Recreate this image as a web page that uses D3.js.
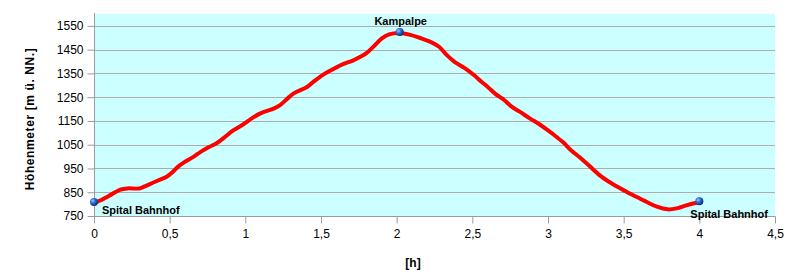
<!DOCTYPE html>
<html>
<head>
<meta charset="utf-8">
<script src="https://cdn.jsdelivr.net/npm/d3@7"></script>
<style>
  body { margin: 0; background: #fff; }
  svg { display: block; font-family: "Liberation Sans", Arial, sans-serif; }
</style>
</head>
<body>
<div id="chart"></div>
<script>
// Höhenprofil: Zeit [h] gegen Höhe [m]
const zeit = [0, 0.04, 0.10, 0.17, 0.22, 0.30, 0.34, 0.40, 0.44, 0.48, 0.52, 0.56, 0.60, 0.66, 0.70, 0.76,
  0.81, 0.86, 0.92, 0.99, 1.04, 1.10, 1.19, 1.23, 1.28, 1.32, 1.41, 1.46, 1.52, 1.58, 1.65, 1.71,
  1.76, 1.80, 1.85, 1.90, 1.95, 2.02, 2.09, 2.15, 2.22, 2.28, 2.33, 2.38, 2.45, 2.51, 2.56, 2.60,
  2.65, 2.71, 2.76, 2.81, 2.88, 2.95, 3.00, 3.04, 3.10, 3.15, 3.23, 3.30, 3.34, 3.40, 3.45, 3.51,
  3.56, 3.65, 3.72, 3.79, 3.85, 3.92, 4.00];
const hoehe = [805, 815, 835, 860, 866, 866, 876, 893, 904, 915, 935, 960, 978, 1000, 1018, 1040,
  1056, 1080, 1110, 1137, 1160, 1182, 1203, 1217, 1245, 1266, 1294, 1320, 1347, 1368, 1390, 1404,
  1420, 1435, 1465, 1496, 1514, 1520, 1512, 1500, 1484, 1462, 1428, 1400, 1372, 1343, 1315, 1294,
  1265, 1238, 1210, 1190, 1161, 1133, 1110, 1091, 1060, 1028, 986, 945, 922, 895, 876, 855,
  838, 810, 789, 778, 782, 796, 808];

const yTicks = [750, 850, 950, 1050, 1150, 1250, 1350, 1450, 1550];
const xTicks = [0, 0.5, 1, 1.5, 2, 2.5, 3, 3.5, 4, 4.5];
const xTickLabels = ["0", "0,5", "1", "1,5", "2", "2,5", "3", "3,5", "4", "4,5"];

// Wegpunkte (Index in zeit/hoehe) und ihre Namen
const punktIdx = [0, 37, 70];
const punktNamen = ["Spital Bahnhof", "Kampalpe", "Spital Bahnhof"];

const W = 807, H = 280;
const pl = 94, pr = 775, pt = 14, pb = 216;

const svg = d3.select('#chart').append('svg')
  .attr('width', W).attr('height', H);

const x = d3.scaleLinear().domain([0, 4.5]).range([pl, pr]);
const y = d3.scaleLinear().domain([750, 1600]).range([pb, pt]);

const defs = svg.append('defs');
const grad = defs.append('radialGradient').attr('id', 'kugel')
  .attr('cx', '35%').attr('cy', '35%').attr('r', '65%');
grad.append('stop').attr('offset', '0%').attr('stop-color', '#9cc4ff');
grad.append('stop').attr('offset', '45%').attr('stop-color', '#2f6fd8');
grad.append('stop').attr('offset', '100%').attr('stop-color', '#0b2f80');

// Hintergrund
svg.append('rect')
  .attr('x', pl).attr('y', pt)
  .attr('width', pr - pl).attr('height', pb - pt)
  .attr('fill', '#ccffff');

// Gitterlinien
svg.append('g').selectAll('line')
  .data(yTicks.slice(1))
  .enter().append('line')
  .attr('x1', pl).attr('x2', pr)
  .attr('y1', d => Math.round(y(d)) + 0.5).attr('y2', d => Math.round(y(d)) + 0.5)
  .attr('stroke', '#adadad').attr('stroke-width', 1);

// Y-Achse
const yAxis = svg.append('g')
  .attr('transform', `translate(${pl + 0.5},0)`)
  .call(d3.axisLeft(y).tickValues(yTicks).tickFormat(d3.format('d')).tickSize(7).tickPadding(4));
yAxis.select('.domain').attr('d', `M0,${pt - 1}V${pb + 6}`);
yAxis.selectAll('line, path').attr('stroke', '#9a9a9a');
yAxis.selectAll('text').style('font-size', '12px').attr('fill', '#000');

// X-Achse
const xAxis = svg.append('g')
  .attr('transform', `translate(0,${pb + 0.5})`)
  .call(d3.axisBottom(x).tickValues(xTicks).tickFormat((d, i) => xTickLabels[i]).tickSize(7).tickPadding(6));
xAxis.select('.domain').attr('d', `M${pl},0H${pr + 0.5}`);
xAxis.selectAll('line, path').attr('stroke', '#9a9a9a');
xAxis.selectAll('text').style('font-size', '12px').attr('fill', '#000');

// Achsentitel
svg.append('text')
  .attr('transform', `translate(34,${(pt + pb) / 2 + 4}) rotate(-90)`)
  .attr('text-anchor', 'middle')
  .style('font-size', '12px').style('font-weight', 'bold')
  .style('letter-spacing', '0.6px')
  .text('Höhenmeter [m ü. NN.]');

svg.append('text')
  .attr('x', 413).attr('y', 267)
  .attr('text-anchor', 'middle')
  .style('font-size', '12px').style('font-weight', 'bold')
  .text('[h]');

// Profil
const daten = zeit.map((t, i) => ({ t, h: hoehe[i] }));
svg.append('path')
  .datum(daten)
  .attr('fill', 'none')
  .attr('stroke', '#ff0000')
  .attr('stroke-width', 4)
  .attr('stroke-linejoin', 'round')
  .attr('d', d3.line().x(d => x(d.t)).y(d => y(d.h)).curve(d3.curveCatmullRom));

// Wegpunkte
const punkte = punktIdx.map((k, i) => ({ t: zeit[k], h: hoehe[k], name: punktNamen[i] }));
svg.append('g').selectAll('circle')
  .data(punkte)
  .enter().append('circle')
  .attr('cx', d => x(d.t)).attr('cy', d => y(d.h) - 1)
  .attr('r', 4)
  .attr('fill', 'url(#kugel)');

const labelPos = [
  { dx: 8, dy: 11, anchor: 'start' },
  { dx: 1, dy: -8, anchor: 'middle' },
  { dx: -9, dy: 16, anchor: 'start' }
];
svg.append('g').selectAll('text')
  .data(punkte)
  .enter().append('text')
  .attr('x', (d, i) => x(d.t) + labelPos[i].dx)
  .attr('y', (d, i) => y(d.h) + labelPos[i].dy)
  .attr('text-anchor', (d, i) => labelPos[i].anchor)
  .style('font-size', '11px').style('font-weight', 'bold')
  .text(d => d.name);
</script>
</body>
</html>
